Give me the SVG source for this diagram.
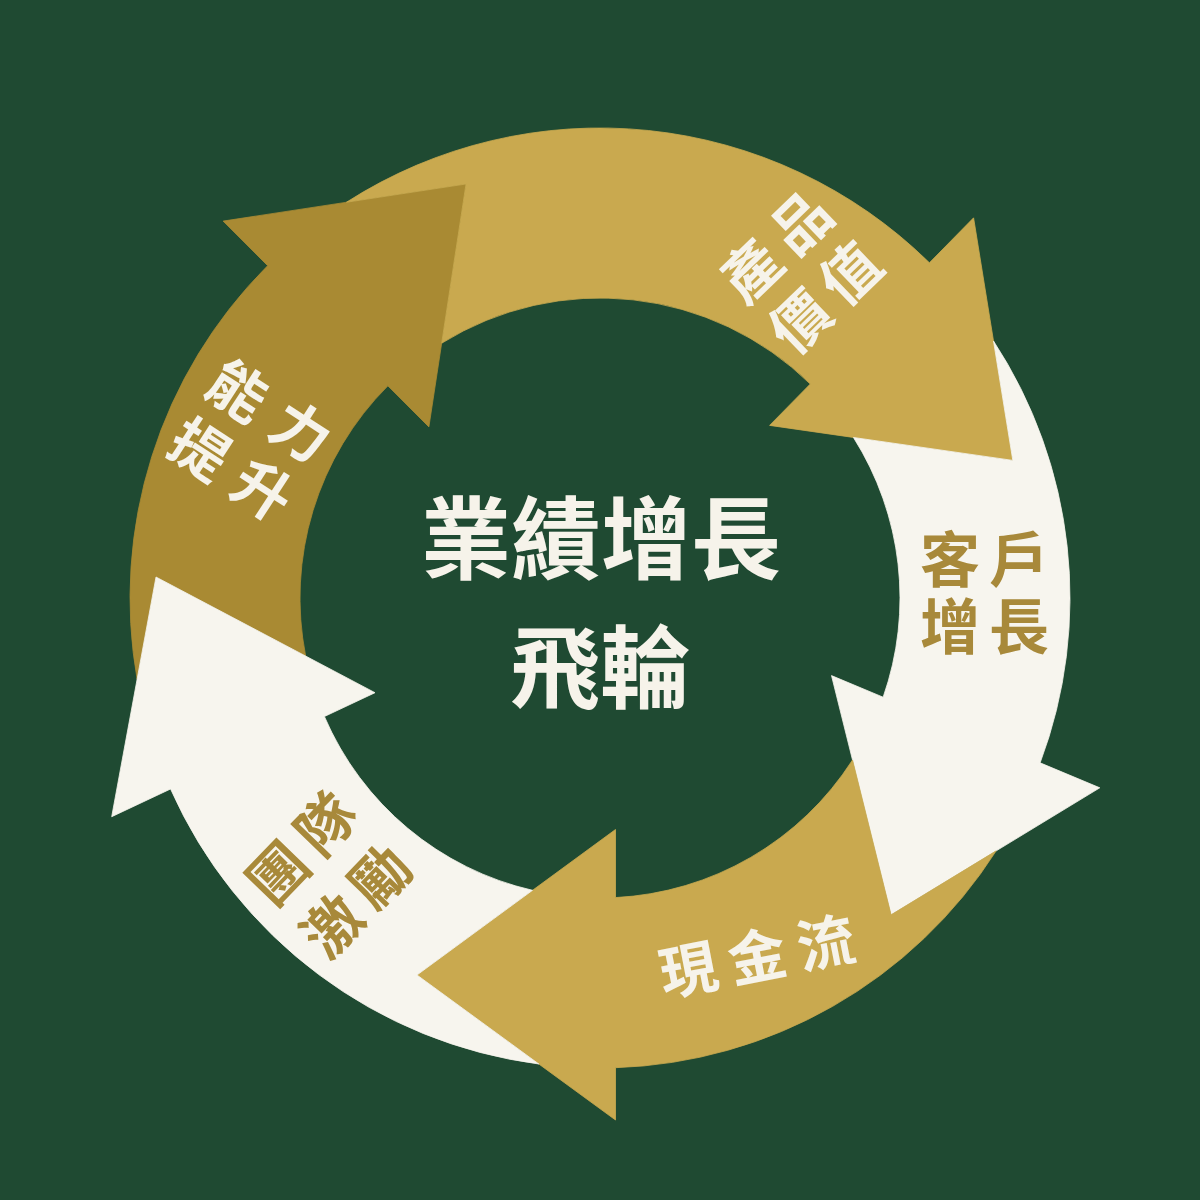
<svg xmlns="http://www.w3.org/2000/svg" width="1200" height="1200" viewBox="0 0 1200 1200">
  <style>
    .bg { fill: #1f4a32; }
    .dark { fill: #a98a33; stroke: #a98a33; stroke-width: 0.8; }
    .gold { fill: #c9a94f; stroke: #c9a94f; stroke-width: 0.8; }
    .cream { fill: #f7f5ee; stroke: #f7f5ee; stroke-width: 0.8; }
    .lbl { font-family: "Noto Sans CJK TC", "Noto Sans CJK SC", sans-serif; font-weight: 700; text-anchor: middle; }
    .lt { fill: #f6f3ea; }
    .dk { fill: #a8893a; }
    .title { font-family: "Noto Sans CJK TC", "Noto Sans CJK SC", sans-serif; font-weight: 700; font-size: 90px; fill: #f6f3ea; text-anchor: middle; }
  </style>
  <rect class="bg" x="0" y="0" width="1200" height="1200"/>
  <g id="connectors"></g>
  <g id="node-capability">
    <path class="dark" d="M 137.1 679.3 A 470 470 0 0 1 267.66 265.66 L 223.11 221.11 L 466.01 183.99 L 428.88 426.88 L 387.87 385.87 A 300 300 0 0 0 305.68 656.08 L 156 577 Z"/>
    <g transform="translate(250.75 440.1) rotate(33)">
      <text class="lbl lt" font-size="58"><tspan x="-37.5 37.5" y="-13">能力</tspan><tspan x="-37.5 37.5" y="57">提升</tspan></text>
    </g>
  </g>
  <g id="node-product">
    <path class="gold" d="M 346.43 202.26 A 470 470 0 0 1 929.43 262.77 L 973.59 217.84 L 1012.82 460.4 L 769.62 425.39 L 810.27 384.02 A 300 300 0 0 0 441.69 343.18 L 466.01 183.99 Z"/>
    <g transform="translate(800 271.25) rotate(-44)">
      <text class="lbl lt" font-size="58"><tspan x="-34.75 34.75" y="-13">產品</tspan><tspan x="-34.75 34.75" y="57.6">價值</tspan></text>
    </g>
  </g>
  <g id="node-customer">
    <path class="cream" d="M 993.5 340.99 A 470 470 0 0 1 1040.14 762.85 L 1099.8 787.8 L 891.1 914.8 L 831.5 675.6 L 883.13 697.19 A 300 300 0 0 0 853.44 437.47 L 1012.82 460.4 Z"/>
    <text class="lbl dk" font-size="60"><tspan x="950 1019" y="582">客戶</tspan><tspan x="950 1019" y="649">增長</tspan></text>
  </g>
  <g id="node-cashflow">
    <path class="gold" d="M 996.19 850.85 A 470 470 0 0 1 615.5 1067.7 L 615.5 1120 L 417 975 L 615.5 829.5 L 615.5 897.6 A 300 300 0 0 0 852.52 759.97 L 891.1 914.8 Z"/>
    <g transform="translate(757 955.8) rotate(-11)">
      <text class="lbl lt" font-size="58" x="-70 0 70" y="22">現金流</text>
    </g>
  </g>
  <g id="node-team">
    <path class="cream" d="M 538.84 1064 A 470 470 0 0 1 170.55 788.98 L 111.7 816.7 L 156 577 L 375 692.7 L 324.41 716.53 A 300 300 0 0 0 532.53 890.31 L 417 975 Z"/>
    <g transform="translate(328.75 874.5) rotate(-46)">
      <text class="lbl dk" font-size="58"><tspan x="-34.5 34.5" y="-16">團隊</tspan><tspan x="-34.5 34.5" y="60">激勵</tspan></text>
    </g>
  </g>
  <g id="node-title">
    <text class="title" x="601" y="572">業績增長</text>
    <text class="title" x="600" y="701">飛輪</text>
  </g>
</svg>
